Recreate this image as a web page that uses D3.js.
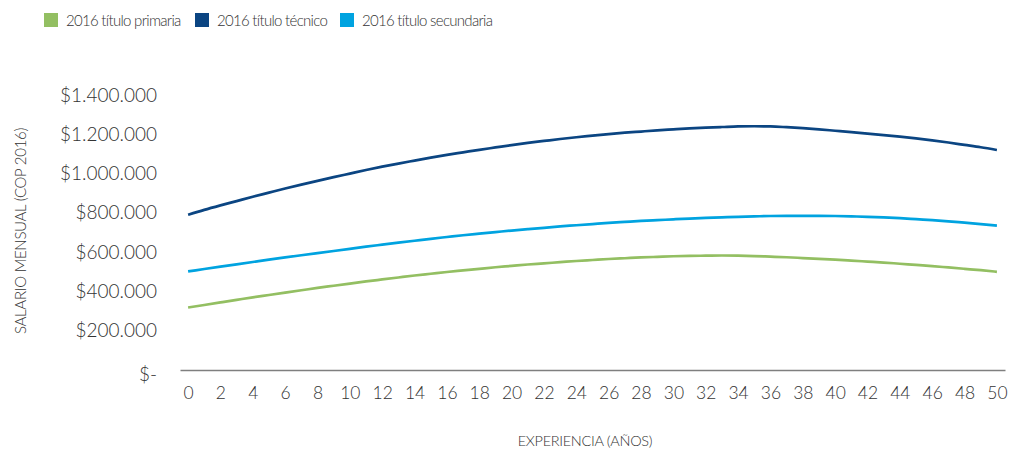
<!DOCTYPE html>
<html>
<head>
<meta charset="utf-8">
<script src="https://cdn.jsdelivr.net/npm/d3@7"></script>
<style>
  body { margin: 0; background: #fff; }
  text { font-family: Lato, "Open Sans", sans-serif; fill: #333; font-weight: 300; }
</style>
</head>
<body>
<div id="chart"></div>
<script>
// width and height
var w = 1022;
var h = 455;

// years of experience 0..50
var years = d3.range(0, 51);
var tickYears = d3.range(0, 51, 2);
var yTicks = [0, 200000, 400000, 600000, 800000, 1000000, 1200000, 1400000];

var seriesNames = ["2016 título primaria", "2016 título técnico", "2016 título secundaria"];
var seriesColors = ["#93bf62", "#0b4582", "#00a3e0"];

// monthly salary, thousands of COP
var primaria = [318, 331, 344, 357, 370, 382, 394, 406, 418, 429,
  440, 451, 461, 471, 481, 490, 499, 507, 515, 523,
  530, 537, 543, 549, 555, 560, 565, 569, 573, 576,
  579, 581, 582, 583, 582, 580, 577, 574, 570, 566,
  562, 557, 552, 547, 541, 535, 529, 522, 515, 508, 500];
var tecnico = [790, 815, 838, 860, 882, 903, 924, 944, 963, 982,
  1000, 1018, 1035, 1051, 1066, 1081, 1095, 1108, 1121, 1133,
  1145, 1156, 1166, 1176, 1185, 1193, 1201, 1208, 1214, 1220,
  1225, 1230, 1234, 1237, 1240, 1241, 1240, 1236, 1231, 1225,
  1218, 1211, 1203, 1196, 1188, 1179, 1169, 1158, 1146, 1134, 1120];
var secundaria = [502, 514, 526, 538, 550, 562, 573, 584, 595, 606,
  617, 628, 638, 648, 658, 668, 677, 686, 694, 702,
  710, 717, 724, 731, 737, 743, 749, 754, 759, 763,
  767, 771, 774, 777, 780, 782, 784, 785, 785, 785,
  784, 782, 780, 777, 773, 768, 763, 757, 750, 743, 735];

var dataset = [primaria, tecnico, secundaria];

var svg = d3.select("#chart")
  .append("svg")
  .attr("width", w)
  .attr("height", h);

// category-style x axis: 51 slots, labels on every second one
var xScale = d3.scaleLinear()
  .domain([-0.5, 50.5])
  .range([180, 1005]);

var yScale = d3.scaleLinear()
  .domain([0, 1400000])
  .range([370, 95]);

// x axis
var xAxis = d3.axisBottom(xScale)
  .tickValues(tickYears)
  .tickSize(0)
  .tickPadding(17)
  .tickFormat(d3.format("d"));

var gx = svg.append("g")
  .attr("class", "x axis")
  .attr("transform", "translate(0,370)")
  .call(xAxis);
gx.select(".domain").attr("stroke", "#7f7f7f").attr("stroke-width", 1.3);
gx.selectAll("text").attr("font-size", "17.5px").attr("fill", "#333")
  .attr("font-family", "Lato, sans-serif");

// y axis (labels only)
var fmt = function (v) {
  if (v === 0) return "$-";
  return "$" + d3.format(",")(v).replace(/,/g, ".");
};
var yAxis = d3.axisLeft(yScale)
  .tickValues(yTicks)
  .tickSize(0)
  .tickPadding(0)
  .tickFormat(fmt);

var gy = svg.append("g")
  .attr("class", "y axis")
  .attr("transform", "translate(157,0)")
  .call(yAxis);
gy.select(".domain").remove();
gy.selectAll("text").attr("font-size", "19px").attr("fill", "#333")
  .attr("font-family", "Lato, sans-serif");
gy.selectAll(".tick").filter(function (d) { return d === 0; })
  .select("text").attr("dy", "0.55em");

// lines
var line = d3.line()
  .x(function (d, i) { return xScale(years[i]); })
  .y(function (d) { return yScale(d * 1000); })
  .curve(d3.curveMonotoneX);

svg.selectAll("path.serie")
  .data(dataset)
  .enter()
  .append("path")
  .attr("class", "serie")
  .attr("d", line)
  .attr("fill", "none")
  .attr("stroke", function (d, i) { return seriesColors[i]; })
  .attr("stroke-width", 2.7);

// axis titles
svg.append("text")
  .attr("x", 585)
  .attr("y", 446)
  .attr("text-anchor", "middle")
  .attr("font-size", "14.5px")
  .attr("letter-spacing", "-0.3px")
  .text("EXPERIENCIA (AÑOS)");

svg.append("text")
  .attr("transform", "translate(26,231) rotate(-90)")
  .attr("text-anchor", "middle")
  .attr("font-size", "15px")
  .attr("letter-spacing", "-0.3px")
  .text("SALARIO MENSUAL (COP 2016)");

// legend
var legendX = [44, 195, 340];
var legend = svg.selectAll("g.legend")
  .data(seriesNames)
  .enter()
  .append("g")
  .attr("class", "legend")
  .attr("transform", function (d, i) { return "translate(" + legendX[i] + ",13)"; });

legend.append("rect")
  .attr("width", 14)
  .attr("height", 14)
  .attr("fill", function (d, i) { return seriesColors[i]; });

legend.append("text")
  .attr("x", 22)
  .attr("y", 12.5)
  .attr("font-size", "15px")
  .attr("letter-spacing", "-0.7px")
  .text(function (d) { return d; });
</script>
</body>
</html>
